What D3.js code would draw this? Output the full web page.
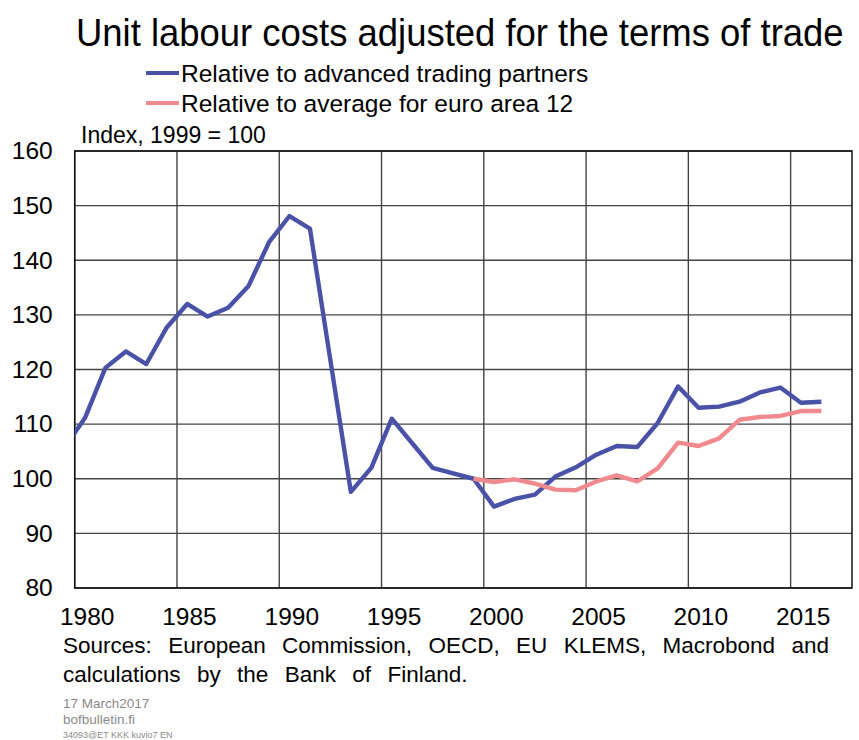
<!DOCTYPE html>
<html><head><meta charset="utf-8">
<script src="https://cdn.jsdelivr.net/npm/d3@7"></script>
<style>
html,body{margin:0;padding:0;background:#fff;}
svg{display:block;font-family:"Liberation Sans",Arial,sans-serif;}
</style></head>
<body>
<svg id="chart" width="859" height="740"></svg>
<script>
const years = d3.range(1979, 2017);
const advancedPartners = [105.7,111.1,120.3,123.3,121.0,127.7,132.0,129.7,131.3,135.3,143.3,148.1,145.8,121.7,97.6,102.0,111.0,106.5,102.0,101.0,100.0,94.9,96.3,97.1,100.4,102.1,104.4,106.0,105.8,110.2,116.9,113.0,113.2,114.1,115.8,116.7,113.9,114.1];
const euroYears = d3.range(1999, 2017);
const euroArea12 = [100.0,99.4,99.9,99.1,98.0,97.9,99.5,100.6,99.5,101.9,106.6,106.0,107.4,110.8,111.3,111.5,112.4,112.4];
const xTicks = [1980,1985,1990,1995,2000,2005,2010,2015];
const yTicks = [80,90,100,110,120,130,140,150,160];
const seriesNames = ["Relative to advanced trading partners","Relative to average for euro area 12"];
const colors = ["#4a52a8","#f08a8f"];

const svg = d3.select("#chart");
const L = 74.7, R = 852, T = 151, B = 588;
const x = d3.scaleLinear().domain([1980, 2018]).range([L, R]);
const y = d3.scaleLinear().domain([80, 160]).range([B, T]);

// title (horizontally condensed via scale transform)
const tg = svg.append("g");
const title = tg.append("text").attr("x", 0).attr("y", 0).attr("font-size", 38)
  .attr("fill", "#000").text("Unit labour costs adjusted for the terms of trade");
const tw = title.node().getComputedTextLength();
tg.attr("transform", `translate(76,46) scale(${768 / tw},1)`);

// legend
seriesNames.forEach((n, i) => {
  const yy = 73 + i * 30;
  svg.append("line").attr("x1", 146).attr("x2", 179).attr("y1", yy).attr("y2", yy)
    .attr("stroke", colors[i]).attr("stroke-width", 4);
  svg.append("text").attr("x", 181).attr("y", yy + 8.5).attr("font-size", 24.5)
    .attr("fill", "#000").text(n);
});
svg.append("text").attr("x", 81).attr("y", 143).attr("font-size", 23)
  .attr("fill", "#000").text("Index, 1999 = 100");

// grid
const g = svg.append("g");
g.selectAll("line.h").data(yTicks).join("line")
  .attr("x1", L).attr("x2", R).attr("y1", d => y(d)).attr("y2", d => y(d))
  .attr("stroke", "#444").attr("stroke-width", 1.4);
g.selectAll("line.v").data(xTicks).join("line")
  .attr("y1", T).attr("y2", B).attr("x1", d => x(d)).attr("x2", d => x(d))
  .attr("stroke", "#444").attr("stroke-width", 1.4);
g.append("rect").attr("x", L).attr("y", T).attr("width", R - L).attr("height", B - T)
  .attr("fill", "none").attr("stroke", "#111").attr("stroke-width", 1.5);

// axes labels
const yAxis = d3.axisLeft(y).tickValues(yTicks).tickSize(0).tickPadding(22);
const ya = svg.append("g").attr("transform", `translate(${L},0)`).call(yAxis);
ya.select(".domain").remove();
ya.selectAll("text").attr("font-size", 24.5).attr("font-family", "Liberation Sans, Arial, sans-serif").attr("fill", "#000");

const xAxis = d3.axisBottom(x).tickValues(xTicks).tickFormat(d3.format("d")).tickSize(0).tickPadding(20);
const xa = svg.append("g").attr("transform", `translate(12,${B})`).call(xAxis);
xa.select(".domain").remove();
xa.selectAll("text").attr("font-size", 24.5).attr("font-family", "Liberation Sans, Arial, sans-serif").attr("fill", "#000");

// lines
svg.append("clipPath").attr("id", "clip").append("rect")
  .attr("x", L).attr("y", T).attr("width", R - L).attr("height", B - T);
const line = d3.line().x(d => x(d[0] + 0.5)).y(d => y(d[1]));
const plot = svg.append("g").attr("clip-path", "url(#clip)");
plot.append("path").datum(years.map((yr, i) => [yr, advancedPartners[i]]))
  .attr("d", line).attr("fill", "none").attr("stroke", colors[0]).attr("stroke-width", 4.4)
  .attr("stroke-linejoin", "round");
plot.append("path").datum(euroYears.map((yr, i) => [yr, euroArea12[i]]))
  .attr("d", line).attr("fill", "none").attr("stroke", colors[1]).attr("stroke-width", 4.4)
  .attr("stroke-linejoin", "round");

// sources
const s1 = svg.append("text").attr("x", 63).attr("y", 653).attr("font-size", 22.5).attr("fill", "#000")
  .text("Sources: European Commission, OECD, EU KLEMS, Macrobond and");
const w1 = s1.node().getComputedTextLength();
s1.attr("word-spacing", Math.max(0, (766 - w1) / 7));
const s2 = svg.append("text").attr("x", 63).attr("y", 682).attr("font-size", 22.5).attr("fill", "#000")
  .text("calculations by the Bank of Finland.");
s2.attr("word-spacing", Math.max(0, (766 - w1) / 7));

// footer
svg.append("text").attr("x", 63).attr("y", 708).attr("font-size", 13.5).attr("fill", "#8a8a8a").text("17 March2017");
svg.append("text").attr("x", 63).attr("y", 724).attr("font-size", 13.5).attr("fill", "#8a8a8a").text("bofbulletin.fi");
svg.append("text").attr("x", 63).attr("y", 738).attr("font-size", 9).attr("fill", "#8a8a8a").text("34093@ET  KKK  kuvio7  EN");
</script>
</body></html>
